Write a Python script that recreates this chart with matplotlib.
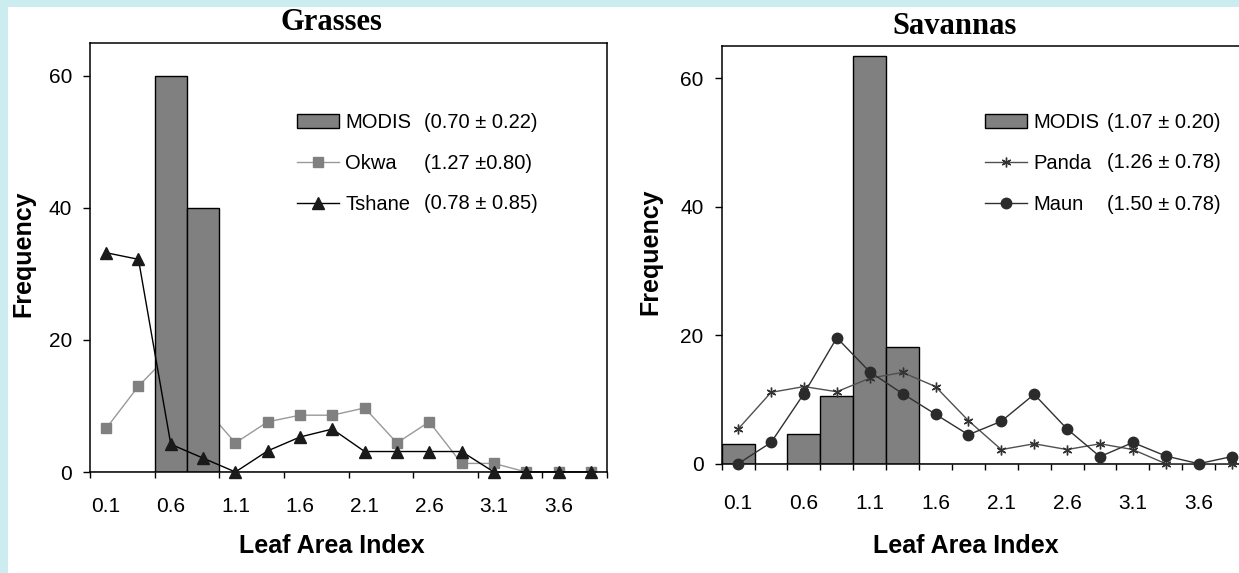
import matplotlib as mpl
mpl.use('Agg')
import matplotlib.pyplot as plt
from matplotlib.patches import Rectangle

W, H = 1239, 573

# LAI class centres (category axis)
lai_bins = [0.1, 0.35, 0.6, 0.85, 1.1, 1.35, 1.6, 1.85,
            2.1, 2.35, 2.6, 2.85, 3.1, 3.35, 3.6, 3.85]

# Grasses
modis_grass = [0, 0, 60, 40, 0, 0, 0, 0, 0, 0, 0, 0, 0, 0, 0, 0]
okwa = [6.6, 13.0, 18.0, 10.0, 4.4, 7.6, 8.6, 8.6, 9.7, 4.4, 7.6, 1.3, 1.3, 0, 0, 0]
tshane = [33.2, 32.2, 4.2, 2.1, 0, 3.2, 5.3, 6.5, 3.1, 3.1, 3.1, 3.1, 0, 0, 0, 0]
stats_grass = ['(0.70 \u00b1 0.22)', '(1.27 \u00b10.80)', '(0.78 \u00b1 0.85)']

# Savannas
modis_sav = [3.0, 0, 4.6, 10.5, 63.4, 18.1, 0, 0, 0, 0, 0, 0, 0, 0, 0, 0]
panda = [5.4, 11.1, 12.0, 11.2, 13.3, 14.2, 12.0, 6.7, 2.2, 3.1, 2.2, 3.1, 2.2, 0, 0, 0]
maun = [0, 3.3, 10.9, 19.6, 14.3, 10.9, 7.7, 4.5, 6.6, 10.8, 5.4, 1.1, 3.3, 1.2, 0, 1.1]
stats_sav = ['(1.07 \u00b1 0.20)', '(1.26 \u00b1 0.78)', '(1.50 \u00b1 0.78)']

plt.rcParams['font.family'] = ['Liberation Sans', 'DejaVu Sans']


def fx(x):
    return x / W


def fy(y):
    return 1 - y / H


def setup(ax, tick_step, xpad):
    n = len(lai_bins)
    ax.set_xlim(-0.5, n - 0.5)
    ax.set_ylim(0, 65)
    ax.set_facecolor('white')
    for s in ax.spines.values():
        s.set_linewidth(1.1)
        s.set_color('black')
    ax.set_xticks([i - 0.5 for i in range(0, n + 1, tick_step)])
    ax.set_xticklabels([])
    ax.set_xticks(list(range(0, n, 2)), minor=True)
    ax.set_xticklabels([str(v) for v in lai_bins[::2]], minor=True)
    ax.tick_params(axis='x', which='major', direction='out', length=4.5, width=1)
    ax.tick_params(axis='x', which='minor', length=0, pad=xpad, labelsize=15)
    ax.set_yticks([0, 20, 40, 60])
    ax.tick_params(axis='y', direction='out', length=5, width=1, pad=8, labelsize=15)


def add_legend(ax, handles, x0, stats, xs, rows):
    ax.legend(handles=handles, loc='upper left',
              bbox_to_anchor=(fx(x0), fy(rows[0] - 10)), bbox_transform=fig.transFigure,
              frameon=False, borderpad=0, borderaxespad=0, handlelength=2.1,
              handleheight=0.65, handletextpad=0.3, labelspacing=1.1,
              prop={'family': 'Liberation Sans', 'size': 14.5})
    for txt, yy in zip(stats, rows):
        fig.text(fx(xs), fy(yy), txt, ha='left', va='center',
                 family='Liberation Sans', fontsize=14.5)


fig = plt.figure(figsize=(W / 100, H / 100), dpi=100)
fig.patch.set_facecolor('#cbedf0')
fig.add_artist(Rectangle((fx(8), 0), 1, fy(7), transform=fig.transFigure,
                         facecolor='white', edgecolor='none', zorder=-10))

x = list(range(len(lai_bins)))

# ---- Grasses ----
ax1 = fig.add_axes([fx(90), fy(472), fx(607 - 90), (472 - 42.7) / H])
l_okwa, = ax1.plot(x, okwa, color='#999999', lw=1, marker='s', ms=7,
                   mfc='#808080', mec='#808080', zorder=1, label='Okwa')
b1 = ax1.bar(x, modis_grass, width=1.0, color='#808080', edgecolor='black',
             linewidth=1, zorder=2, label='MODIS')
l_tsh, = ax1.plot(x, tshane, color='black', lw=1, marker='^', ms=8,
                  mfc='#1a1a1a', mec='#1a1a1a', zorder=3, label='Tshane', clip_on=False)
setup(ax1, 2, 18)
add_legend(ax1, [b1, l_okwa, l_tsh], 297, stats_grass, 424, [123, 164, 204])

# ---- Savannas ----
ax2 = fig.add_axes([fx(721.7), fy(463.7), fx(1248 - 721.7), (463.7 - 46) / H])
b2 = ax2.bar(x, modis_sav, width=1.0, color='#808080', edgecolor='black',
             linewidth=1, zorder=2, label='MODIS')
l_pan, = ax2.plot(x, panda, color='#505050', lw=1, marker=(6, 2, 0), ms=7,
                  mew=1, mec='#333333', zorder=3, label='Panda', clip_on=False)
l_mau, = ax2.plot(x, maun, color='#303030', lw=1, marker='o', ms=7.5,
                  mfc='#2b2b2b', mec='#2b2b2b', zorder=4, label='Maun', clip_on=False)
setup(ax2, 1, 22)
add_legend(ax2, [b2, l_pan, l_mau], 985, stats_sav, 1107, [123, 163, 205])

# titles and axis labels
fig.text(fx(331), fy(23), 'Grasses', ha='center', va='center',
         family='Liberation Serif', weight='bold', fontsize=22)
fig.text(fx(955), fy(26), 'Savannas', ha='center', va='center',
         family='Liberation Serif', weight='bold', fontsize=22)
for cx in [332, 966]:
    fig.text(fx(cx), fy(546), 'Leaf Area Index', ha='center', va='center',
             family='Liberation Sans', weight='bold', fontsize=18)
for cx, cy in [(23, 254), (650, 252)]:
    fig.text(fx(cx), fy(cy), 'Frequency', ha='center', va='center', rotation=90,
             family='Liberation Sans', weight='bold', fontsize=18)

fig.savefig('out.png', dpi=100)
